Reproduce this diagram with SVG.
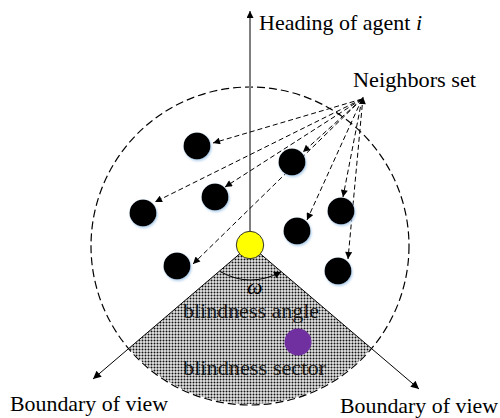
<svg xmlns="http://www.w3.org/2000/svg" width="500" height="418" viewBox="0 0 500 418">
<defs>
<style>
text{font-family:"Liberation Serif","Times New Roman","DejaVu Serif",serif}
.t{font-size:22px;fill:#000}
.st{font-size:22px;fill:#1a1a1a}
.nb{fill:#000;filter:url(#glow)}
.dl{stroke:#000;stroke-width:1;stroke-dasharray:5 3;fill:none;marker-end:url(#ah)}
.bl{stroke:#000;stroke-width:1;fill:none;marker-end:url(#ah2)}
</style>
<marker id="ah" viewBox="0 0 10 10" refX="10" refY="5" markerWidth="9" markerHeight="7" markerUnits="userSpaceOnUse" orient="auto-start-reverse"><path d="M0,0 L10,5 L0,10 z" fill="#000"/></marker>
<marker id="ah2" viewBox="0 0 10 10" refX="10" refY="5" markerWidth="11" markerHeight="8" markerUnits="userSpaceOnUse" orient="auto"><path d="M0,0 L10,5 L0,10 z" fill="#000"/></marker>
<marker id="ah3" viewBox="0 0 10 10" refX="10" refY="5" markerWidth="9" markerHeight="7" markerUnits="userSpaceOnUse" orient="auto"><path d="M0,0 L10,5 L0,10 z" fill="#000"/></marker>
<pattern id="dots" width="3" height="3" patternUnits="userSpaceOnUse"><rect width="3" height="3" fill="#e6e6e6"/><circle cx="1.5" cy="1.5" r="1" fill="#111"/></pattern>
<filter id="glow" x="-30%" y="-30%" width="160%" height="160%"><feDropShadow dx="1" dy="1.5" stdDeviation="1.2" flood-color="#9cc3e6" flood-opacity="0.8"/></filter>
</defs>

<g id="range">
<circle cx="250" cy="246" r="159" fill="none" stroke="#000" stroke-width="1.2" stroke-dasharray="8 4"/>
</g>

<g id="blindness-sector">
<path d="M250,245 L129,348.2 A159,159 0 0 0 371,348.2 Z" fill="url(#dots)"/>
<text class="st" x="183" y="318" textLength="136" lengthAdjust="spacingAndGlyphs">blindness angle</text>
<text class="st" x="183" y="375" textLength="143" lengthAdjust="spacingAndGlyphs">blindness sector</text>
</g>

<g id="blind-agent">
<circle cx="298" cy="342" r="13.5" fill="#7030A0"/>
</g>

<g id="connectors">
<line class="bl" x1="250" y1="245" x2="93" y2="379"/>
<line class="bl" x1="250" y1="245" x2="419" y2="389"/>
<line x1="250" y1="232" x2="250" y2="11" stroke="#7f7f7f" stroke-width="2" marker-end="url(#ah3)"/>
<line class="dl" x1="362" y1="99" x2="213" y2="143"/>
<line class="dl" x1="362" y1="99" x2="303" y2="152"/>
<line class="dl" x1="362" y1="99" x2="225" y2="187"/>
<line class="dl" x1="362" y1="99" x2="155" y2="202"/>
<line class="dl" x1="362" y1="99" x2="343" y2="197"/>
<line class="dl" x1="362" y1="99" x2="307" y2="220"/>
<line class="dl" x1="362" y1="99" x2="193" y2="264"/>
<line class="dl" x1="363" y1="97" x2="348" y2="259" marker-start="url(#ah)"/>
<path d="M221,272 Q250,288 281,272" fill="none" stroke="#000" stroke-width="1" marker-end="url(#ah3)"/>
</g>

<g id="neighbors">
<circle class="nb" cx="197" cy="146" r="13.5"/>
<circle class="nb" cx="292" cy="162" r="13.5"/>
<circle class="nb" cx="215" cy="197" r="13.5"/>
<circle class="nb" cx="143" cy="213" r="13.5"/>
<circle class="nb" cx="341" cy="211" r="13.5"/>
<circle class="nb" cx="297" cy="231" r="13.5"/>
<circle class="nb" cx="177" cy="266" r="13.5"/>
<circle class="nb" cx="338" cy="271" r="13.5"/>
</g>

<g id="agent-i">
<circle cx="250" cy="245" r="13.7" fill="#FFFF00" stroke="#333" stroke-width="1"/>
</g>

<g id="labels">
<text class="t" x="259" y="30" textLength="163" lengthAdjust="spacingAndGlyphs">Heading of agent <tspan font-style="italic">i</tspan></text>
<text class="t" x="353" y="87" textLength="123" lengthAdjust="spacingAndGlyphs">Neighbors set</text>
<text class="t" x="10" y="411" textLength="158" lengthAdjust="spacingAndGlyphs">Boundary of view</text>
<text class="t" x="340" y="413" textLength="158" lengthAdjust="spacingAndGlyphs">Boundary of view</text>
<text class="t" x="247" y="294" font-size="16" font-style="italic">ω</text>
</g>
</svg>
